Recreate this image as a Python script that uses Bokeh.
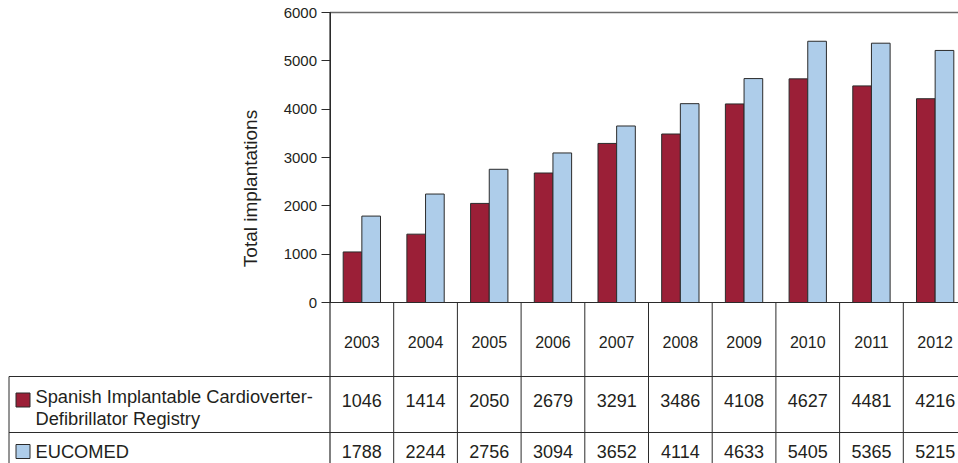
from bokeh.plotting import figure
from bokeh.models import Range1d, LinearAxis, FixedTicker, ColumnDataSource
from bokeh.core.properties import value
from bokeh.embed import file_html
from bokeh.resources import INLINE

# ---- data ----
years = ["2003", "2004", "2005", "2006", "2007", "2008", "2009", "2010", "2011", "2012"]
spanish = [1046, 1414, 2050, 2679, 3291, 3486, 4108, 4627, 4481, 4216]
eucomed = [1788, 2244, 2756, 3094, 3652, 4114, 4633, 5405, 5365, 5215]
series_names = ["Spanish Implantable Cardioverter-", "Defibrillator Registry", "EUCOMED"]
y_ticks = [0, 1000, 2000, 3000, 4000, 5000, 6000]

RED = "#9b1f37"
BLUE = "#aecdea"
EDGE = "#2b2b2b"
FONT = value("Liberation Sans")

# ---- geometry helpers (canvas pixels -> data units) ----
COLW = 63.7
X0 = 329.5          # x of the y axis (left edge of first column)
Y0 = 302.0          # y of value 0
UPP = 6000 / 290.0  # data units per pixel vertically


def X(px):
    return (px - X0) / COLW - 0.5


def Y(py):
    return (Y0 - py) * UPP


W, H = 958, 463
p = figure(width=W, height=H, output_backend="svg", toolbar_location=None,
           x_range=Range1d(X(0), X(W)), y_range=Range1d(Y(H), Y(0)),
           x_axis_type=None, y_axis_type=None,
           min_border=0, min_border_left=0, min_border_right=0,
           min_border_top=0, min_border_bottom=0)
p.outline_line_color = None
p.xgrid.visible = False
p.ygrid.visible = False
p.background_fill_color = "white"

n = len(years)
idx = list(range(n))
bw = 0.293
src = ColumnDataSource(dict(
    x=idx, xr=[i - bw / 2 for i in idx], xb=[i + bw / 2 for i in idx],
    sp=spanish, eu=eucomed, yr=years,
    sp_t=[str(v) for v in spanish], eu_t=[str(v) for v in eucomed],
))

# bars
p.vbar(x="xr", top="sp", bottom=0, width=bw, source=src,
       fill_color=RED, line_color=EDGE, line_width=1)
p.vbar(x="xb", top="eu", bottom=0, width=bw, source=src,
       fill_color=BLUE, line_color=EDGE, line_width=1)

# frame lines
xr_end = X(970)
p.segment(x0=[-0.5], y0=[6000], x1=[xr_end], y1=[6000], line_color="#6a6a6a", line_width=1.3)
p.segment(x0=[-0.5], y0=[6000], x1=[-0.5], y1=[Y(480)], line_color=EDGE, line_width=1.2)
p.segment(x0=[-0.5], y0=[0], x1=[xr_end], y1=[0], line_color=EDGE, line_width=1.2)

# table grid
col_lines = [i + 0.5 for i in range(n)]
p.segment(x0=col_lines, y0=[0] * n, x1=col_lines, y1=[Y(480)] * n,
          line_color=EDGE, line_width=1)
p.segment(x0=[X(8.5), X(8.5)], y0=[Y(376), Y(432)], x1=[xr_end, xr_end], y1=[Y(376), Y(432)],
          line_color=EDGE, line_width=1)
p.segment(x0=[X(8.5)], y0=[Y(376)], x1=[X(8.5)], y1=[Y(480)], line_color=EDGE, line_width=1)

# table texts
p.text(x="x", y=Y(341.5), text="yr", source=src, text_font=FONT, text_font_size="16px",
       text_align="center", text_baseline="middle", text_color="#231f20")
p.text(x="x", y=Y(399.5), text="sp_t", source=src, text_font=FONT, text_font_size="18px",
       text_align="center", text_baseline="middle", text_color="#231f20")
p.text(x="x", y=Y(451), text="eu_t", source=src, text_font=FONT, text_font_size="18px",
       text_align="center", text_baseline="middle", text_color="#231f20")

# legend boxes + labels in the table
p.rect(x=[X(22.5), X(22.5)], y=[Y(399.5), Y(451)], width=14, height=14,
       width_units="screen", height_units="screen",
       fill_color=[RED, BLUE], line_color=EDGE, line_width=1)
p.text(x=[X(35)] * 3, y=[Y(396), Y(418), Y(451)], text=series_names,
       text_font=FONT, text_font_size="18.3px", text_align="left",
       text_baseline="middle", text_color="#231f20")

# y axis title
p.text(x=[X(250)], y=[Y(188)], text=["Total implantations"], angle=1.5707963,
       text_font=FONT, text_font_size="19px", text_align="center",
       text_baseline="middle", text_color="#231f20")

# y axis (ticks + labels) fixed at the left edge of the columns
yax = LinearAxis(fixed_location=-0.5, bounds=(0, 6000), ticker=FixedTicker(ticks=y_ticks))
yax.axis_line_color = EDGE
yax.major_tick_line_color = EDGE
yax.major_tick_out = 9
yax.major_tick_in = 0
yax.minor_tick_line_color = None
yax.major_label_standoff = 4
yax.major_label_text_font = "Liberation Sans"
yax.major_label_text_font_size = "15px"
yax.major_label_text_color = "#231f20"
p.add_layout(yax, "left")

open("out.html", "w").write(file_html(p, INLINE))
